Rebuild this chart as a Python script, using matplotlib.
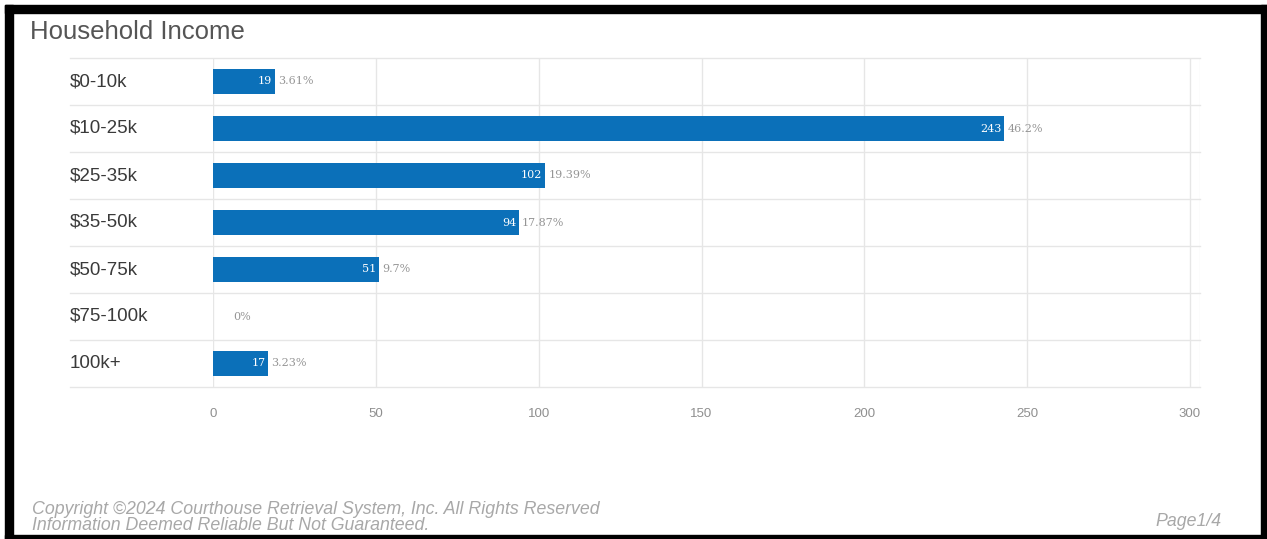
import numpy as np
import matplotlib.pyplot as plt
from matplotlib.patches import Rectangle

categories = ["$0-10k", "$10-25k", "$25-35k", "$35-50k", "$50-75k", "$75-100k", "100k+"]
counts = [19, 243, 102, 94, 51, 0, 17]
percents = ["3.61%", "46.2%", "19.39%", "17.87%", "9.7%", "0%", "3.23%"]
xticks = [0, 50, 100, 150, 200, 250, 300]

W, H = 1267, 539
BLUE = "#0b70b9"
GRID = "#e6e6e6"

fig = plt.figure(figsize=(W / 100, H / 100), dpi=100)
fig.patch.set_facecolor("white")


def px(x, y):
    # pixel coords (top-left origin) -> figure fraction
    return x / W, 1 - y / H


# black frame around the page
for x0, y0, x1, y1 in [(5, 5, 1267, 13), (5, 5, 13, 539), (1261, 5, 1267, 539), (5, 535, 1267, 539)]:
    fx, fy = px(x0, y1)
    fig.patches.append(Rectangle((fx, fy), (x1 - x0) / W, (y1 - y0) / H,
                                 transform=fig.transFigure, color="black", zorder=10))

ax_left, ax_right, ax_top, ax_bottom = 213, 1200, 58, 387
l, b = px(ax_left, ax_bottom)
ax = fig.add_axes([l, b, (ax_right - ax_left) / W, (ax_bottom - ax_top) / H])

xmax = 300 * (ax_right - ax_left) / (1190 - ax_left)
ax.set_xlim(0, xmax)
ax.set_ylim(len(categories) - 0.5, -0.5)

y = np.arange(len(categories))
ax.barh(y, counts, height=0.54, color=BLUE, zorder=3)

# vertical grid
for t in xticks:
    ax.axvline(t, color=GRID, lw=1, zorder=1)
ax.axvline(xmax, color="#f0f0f0", lw=1, zorder=1)

# horizontal separators, extending left under the category labels
sep_left = (70 - ax_left) / (ax_right - ax_left)
for s in np.arange(len(categories) + 1) - 0.5:
    ax.axhline(s, xmin=sep_left, xmax=1, color=GRID, lw=1, clip_on=False, zorder=1)

unit = (1190 - ax_left) / 300  # pixels per data unit
for i, (c, p) in enumerate(zip(counts, percents)):
    if c > 0:
        ax.text(c - 3 / unit, i, str(c), color="white", ha="right", va="center",
                fontsize=8, family="DejaVu Serif", zorder=4)
        px_off = 3
    else:
        px_off = 20
    ax.text(c + px_off / unit, i, p, color="#959595", ha="left", va="center",
            fontsize=8, family="DejaVu Serif", zorder=4)

for s in ax.spines.values():
    s.set_visible(False)
ax.set_yticks([])
ax.set_xticks(xticks)
ax.set_xticklabels([str(t) for t in xticks], color="#8f8f8f", fontsize=9.5,
                   family="Liberation Sans")
ax.tick_params(axis="x", length=0, pad=15)

# category labels
for i, cat in enumerate(categories):
    yc = ax_top + (i + 0.5) * (ax_bottom - ax_top) / len(categories)
    fx, fy = px(70, yc)
    fig.text(fx, fy, cat, ha="left", va="center", fontsize=13.5, color="#3a3a3a",
             family="Liberation Sans")

fx, fy = px(30, 32)
fig.text(fx, fy, "Household Income", ha="left", va="center", fontsize=18.5,
         color="#555555", family="Liberation Sans")

foot = dict(fontsize=12.8, style="italic", color="#a8a8a8", family="Liberation Sans",
            va="center")
fx, fy = px(32, 510)
fig.text(fx, fy, "Copyright \u00a92024 Courthouse Retrieval System, Inc. All Rights Reserved",
         ha="left", **foot)
fx, fy = px(32, 526)
fig.text(fx, fy, "Information Deemed Reliable But Not Guaranteed.", ha="left", **foot)
fx, fy = px(1222, 522)
fig.text(fx, fy, "Page1/4", ha="right", **foot)

fig.savefig("out.png", dpi=100, facecolor="white")
